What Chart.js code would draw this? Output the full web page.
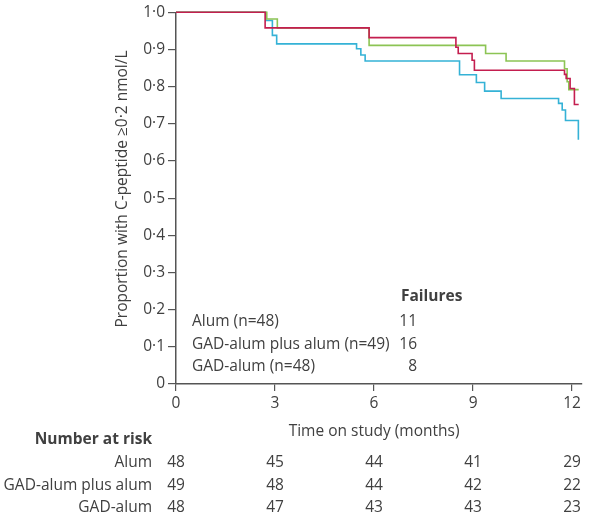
<!DOCTYPE html>
<html>
<head>
<meta charset="utf-8">
<script src="https://cdn.jsdelivr.net/npm/chart.js@4.4.0/dist/chart.umd.min.js"></script>
<style>
  html, body { margin: 0; padding: 0; background: #fff; }
  #wrap { width: 601px; height: 528px; }
</style>
</head>
<body>
<div id="wrap"><canvas id="kmChart" width="601" height="528"></canvas></div>
<script>
// Kaplan-Meier curves: proportion with C-peptide >= 0.2 nmol/L by group

// step times (months) and survival proportion after each step
const alumTimes = [0, 2.7, 5.85, 8.48, 8.55, 8.97, 9.04, 11.77, 11.82, 11.94, 12.07, 12.2];
const alumSurv  = [1.0, 0.958, 0.932, 0.906, 0.889, 0.871, 0.844, 0.833, 0.822, 0.795, 0.752, 0.752];

const gadPlusTimes = [0, 2.72, 2.92, 3.05, 5.47, 5.6, 5.73, 8.59, 9.1, 9.35, 9.85, 11.59, 11.7, 11.8, 12.19];
const gadPlusSurv  = [1.0, 0.978, 0.938, 0.915, 0.902, 0.885, 0.869, 0.832, 0.811, 0.788, 0.768, 0.755, 0.737, 0.709, 0.657];

const gadTimes = [0, 2.75, 3.07, 5.85, 9.38, 10.0, 11.77, 11.85, 11.9, 12.2];
const gadSurv  = [1.0, 0.982, 0.958, 0.911, 0.889, 0.869, 0.848, 0.813, 0.792, 0.792];

const groupLabels = ['Alum (n=48)', 'GAD-alum plus alum (n=49)', 'GAD-alum (n=48)'];
const failures = [11, 16, 8];

const riskNames = ['Alum', 'GAD-alum plus alum', 'GAD-alum'];
const riskTimes = [0, 3, 6, 9, 12];
const riskAlum = [48, 45, 44, 41, 29];
const riskGadPlus = [49, 48, 44, 42, 22];
const riskGad = [48, 47, 43, 43, 23];

const xTickValues = [0, 3, 6, 9, 12];
const yTickValues = [0, 0.1, 0.2, 0.3, 0.4, 0.5, 0.6, 0.7, 0.8, 0.9, 1.0];

const textColor = '#404040';
const axisColor = '#555';
const fontFamily = '"Open Sans", Lato, sans-serif';
const fontSize = 15.5;

function toPoints(times, vals) {
  return times.map((t, i) => ({ x: t, y: vals[i] }));
}

// extra text: axis titles, failures block, number at risk table
const annotations = {
  id: 'annotations',
  afterDraw(chart) {
    const ctx = chart.ctx;
    const xs = chart.scales.x;
    ctx.save();
    ctx.fillStyle = textColor;
    ctx.textBaseline = 'middle';
    ctx.font = fontSize + 'px ' + fontFamily;

    // y title
    ctx.save();
    ctx.translate(123, 189);
    ctx.rotate(-Math.PI / 2);
    ctx.textAlign = 'center';
    ctx.fillText('Proportion with C-peptide \u22650\u00b72 nmol/L', 0, 0);
    ctx.restore();

    // x title
    ctx.textAlign = 'center';
    ctx.fillText('Time on study (months)', (xs.getPixelForValue(0) + xs.getPixelForValue(12)) / 2, 432);

    // failures block
    ctx.textAlign = 'left';
    ctx.font = 'bold ' + fontSize + 'px ' + fontFamily;
    ctx.fillText('Failures', 401, 297);
    ctx.font = fontSize + 'px ' + fontFamily;
    groupLabels.forEach((lab, i) => {
      const y = 322 + i * 22.5;
      ctx.textAlign = 'left';
      ctx.fillText(lab, 192, y);
      ctx.textAlign = 'right';
      ctx.fillText(String(failures[i]), 417, y);
    });

    // number at risk
    ctx.textAlign = 'right';
    ctx.font = 'bold ' + fontSize + 'px ' + fontFamily;
    ctx.fillText('Number at risk', 152, 440);
    ctx.font = fontSize + 'px ' + fontFamily;
    const rows = [riskAlum, riskGadPlus, riskGad];
    rows.forEach((row, i) => {
      const y = 463 + i * 22.5;
      ctx.textAlign = 'right';
      ctx.fillText(riskNames[i], 152, y);
      ctx.textAlign = 'center';
      row.forEach((n, j) => ctx.fillText(String(n), xs.getPixelForValue(riskTimes[j]), y));
    });
    ctx.restore();
  }
};

const lineStyle = { stepped: true, pointRadius: 0, borderWidth: 1.6, fill: false, clip: false };

new Chart(document.getElementById('kmChart'), {
  type: 'line',
  data: {
    datasets: [
      Object.assign({ label: 'Alum', data: toPoints(alumTimes, alumSurv), borderColor: '#c41e4f' }, lineStyle),
      Object.assign({ label: 'GAD-alum', data: toPoints(gadTimes, gadSurv), borderColor: '#8cc454' }, lineStyle),
      Object.assign({ label: 'GAD-alum plus alum', data: toPoints(gadPlusTimes, gadPlusSurv), borderColor: '#35b2d6' }, lineStyle)
    ]
  },
  options: {
    responsive: false,
    devicePixelRatio: 1,
    animation: false,
    layout: { padding: { top: 10, right: 19, left: 0, bottom: 0 } },
    plugins: { legend: { display: false }, tooltip: { enabled: false } },
    scales: {
      x: {
        type: 'linear', min: 0, max: 12.3,
        afterBuildTicks: s => { s.ticks = xTickValues.map(v => ({ value: v })); },
        afterFit: s => { s.height = 528 - 384; },
        ticks: { color: textColor, font: { family: fontFamily, size: fontSize }, padding: 3, maxRotation: 0 },
        grid: { display: true, drawOnChartArea: false, drawTicks: true, tickLength: 7, color: axisColor, lineWidth: 1.2 },
        border: { display: true, color: axisColor, width: 1.5 }
      },
      y: {
        type: 'linear', min: 0, max: 1,
        afterBuildTicks: s => { s.ticks = yTickValues.map(v => ({ value: v })); },
        afterFit: s => { s.width = 176; },
        ticks: {
          color: textColor, font: { family: fontFamily, size: fontSize }, padding: 3,
          callback: v => v === 0 ? '0' : v.toFixed(1).replace('.', '\u00b7')
        },
        grid: { display: true, drawOnChartArea: false, drawTicks: true, tickLength: 8, color: axisColor, lineWidth: 1.2 },
        border: { display: true, color: axisColor, width: 1.5 }
      }
    }
  },
  plugins: [annotations]
});
</script>
</body>
</html>
